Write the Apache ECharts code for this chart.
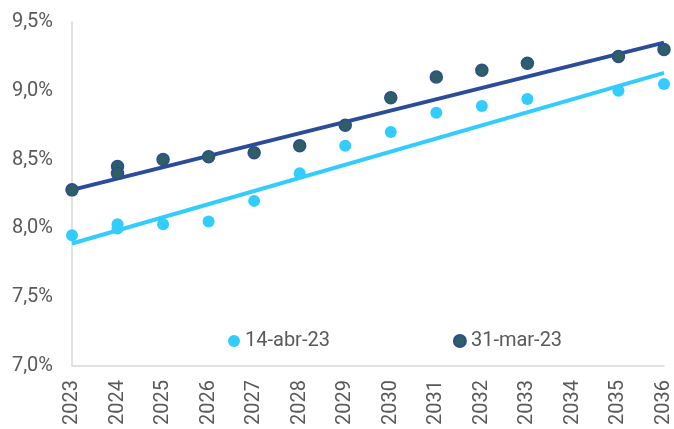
<!DOCTYPE html>
<html>
<head>
<meta charset="utf-8">
<script src="https://cdn.jsdelivr.net/npm/echarts@6/dist/echarts.min.js"></script>
<style>
  html, body { margin: 0; padding: 0; background: #fff; }
  #chart { width: 674px; height: 429px; }
</style>
</head>
<body>
<div id="chart"></div>
<script>
// años y valores
var years = [2023, 2024, 2024, 2025, 2026, 2027, 2028, 2029, 2030, 2031, 2032, 2033, 2035, 2036];
var abr14 = [7.95, 8.03, 8.00, 8.03, 8.05, 8.20, 8.40, 8.60, 8.70, 8.84, 8.89, 8.94, 9.00, 9.05];
var mar31 = [8.28, 8.45, 8.40, 8.50, 8.52, 8.55, 8.60, 8.75, 8.95, 9.10, 9.15, 9.20, 9.25, 9.30];
// tendencias lineales (extremos)
var trendYears = [2023, 2036];
var trendAbr = [7.89, 9.13];
var trendMar = [8.28, 9.35];

function pairs(xs, ys) {
  return xs.map(function (x, i) { return [x, ys[i]]; });
}

var chart = echarts.init(document.getElementById('chart'));
var font = 'Roboto';
var option = {
  animation: false,
  grid: { left: 72, right: 8, top: 22, bottom: 63 },
  legend: {
    data: ['14-abr-23', '31-mar-23'],
    left: 223,
    top: 326,
    itemGap: 123,
    itemWidth: 12,
    itemHeight: 12,
    icon: 'circle',
    textStyle: { fontFamily: font, fontSize: 20, color: '#595959' }
  },
  xAxis: {
    type: 'value',
    min: 2023,
    max: 2036,
    interval: 1,
    axisLine: { lineStyle: { color: '#d9d9d9', width: 1.5 } },
    axisTick: { show: false },
    splitLine: { show: false },
    axisLabel: {
      rotate: 90,
      margin: 14,
      fontFamily: font,
      fontSize: 20,
      color: '#595959',
      formatter: function (v) { return String(v); }
    }
  },
  yAxis: {
    type: 'value',
    min: 7,
    max: 9.5,
    interval: 0.5,
    axisLine: { show: true, lineStyle: { color: '#d9d9d9', width: 1.5 } },
    axisTick: { show: false },
    splitLine: { show: false },
    axisLabel: {
      margin: 19,
      fontFamily: font,
      fontSize: 20,
      color: '#595959',
      formatter: function (v) { return v.toFixed(1).replace('.', ',') + '%'; }
    }
  },
  series: [
    {
      name: 'tend-abr',
      type: 'line',
      data: pairs(trendYears, trendAbr),
      symbol: 'none',
      lineStyle: { color: '#33ccff', width: 4 },
      z: 1
    },
    {
      name: 'tend-mar',
      type: 'line',
      data: pairs(trendYears, trendMar),
      symbol: 'none',
      lineStyle: { color: '#2b4c98', width: 4 },
      z: 1
    },
    {
      name: '14-abr-23',
      type: 'scatter',
      data: pairs(years, abr14),
      symbolSize: 12,
      itemStyle: { color: '#33ccff', opacity: 1 },
      z: 3
    },
    {
      name: '31-mar-23',
      type: 'scatter',
      data: pairs(years, mar31),
      symbolSize: 12,
      itemStyle: { color: '#2e5f62', borderColor: '#2b4c98', borderWidth: 1.5, opacity: 1 },
      z: 3
    }
  ]
};
chart.setOption(option);
</script>
</body>
</html>
